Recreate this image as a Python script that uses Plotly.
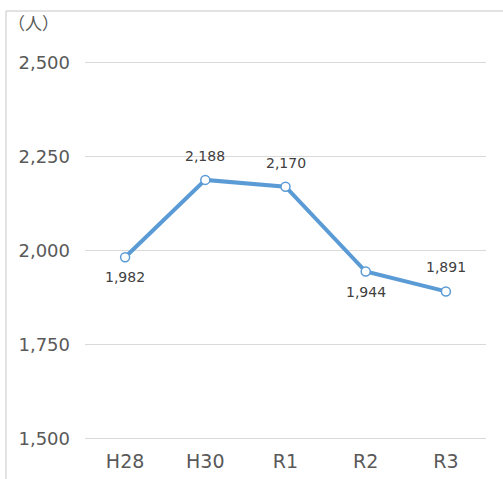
import plotly.graph_objects as go

categories = ["H28", "H30", "R1", "R2", "R3"]
values = [1982, 2188, 2170, 1944, 1891]
label_pos = ["below", "above", "above", "below", "above"]
y_ticks = [1500, 1750, 2000, 2250, 2500]
y_tick_labels = ["1,500", "1,750", "2,000", "2,250", "2,500"]

W, H = 503, 479
ml, mr, mt, mb = 85, 17, 59, 37
pw = W - ml - mr
ph = H - mt - mb

font_family = "DejaVu Sans, sans-serif"
cjk_font = "Noto Sans CJK JP, sans-serif"
blue = "#5B9BD5"

fig = go.Figure()
fig.add_trace(go.Scatter(
    x=categories, y=values, mode="lines+markers",
    line=dict(color=blue, width=4),
    marker=dict(symbol="circle", size=9, color="white", line=dict(color=blue, width=1.5)),
    hoverinfo="skip", showlegend=False,
))

for c, v, p in zip(categories, values, label_pos):
    fig.add_annotation(
        x=c, y=v, text=f"{v:,}", showarrow=False,
        yshift=24 if p == "above" else -20,
        font=dict(family=font_family, size=14, color="#404040"),
    )

fig.add_annotation(
    xref="paper", yref="paper",
    x=(6 - ml) / pw, y=(H - mb - 22) / ph,
    xanchor="left", yanchor="middle",
    text="（人）", showarrow=False,
    font=dict(family=cjk_font, size=17, color="#595959"),
)

# outer border (top and left)
x0 = (6 - ml) / pw
y0 = (H - mb - 11) / ph
yb = (H - mb - 479) / ph
fig.add_shape(type="line", xref="paper", yref="paper", x0=x0, x1=(W - ml) / pw, y0=y0, y1=y0,
              line=dict(color="#d9d9d9", width=1.5))
fig.add_shape(type="line", xref="paper", yref="paper", x0=x0, x1=x0, y0=y0, y1=yb,
              line=dict(color="#d9d9d9", width=1.5))

fig.update_layout(
    width=W, height=H,
    margin=dict(l=ml, r=mr, t=mt, b=mb, pad=0, autoexpand=False),
    paper_bgcolor="white", plot_bgcolor="white",
    font=dict(family=font_family, color="#595959"),
    xaxis=dict(
        type="category", range=[-0.5, 4.5], automargin=False,
        showgrid=False, showline=False, zeroline=False, ticks="",
        ticklabelstandoff=6,
        tickfont=dict(size=19, color="#595959"),
    ),
    yaxis=dict(
        range=[1490, 2510], tickvals=y_ticks, ticktext=y_tick_labels,
        automargin=False,
        showgrid=True, gridcolor="#d9d9d9", gridwidth=1,
        zeroline=False, showline=False, ticks="", ticklabelstandoff=14,
        tickfont=dict(size=18, color="#595959"),
    ),
)

fig.write_html(
    "out.html",
    config={"displayModeBar": False},
    post_script="document.body.style.margin='0';document.body.style.overflow='hidden';",
)
